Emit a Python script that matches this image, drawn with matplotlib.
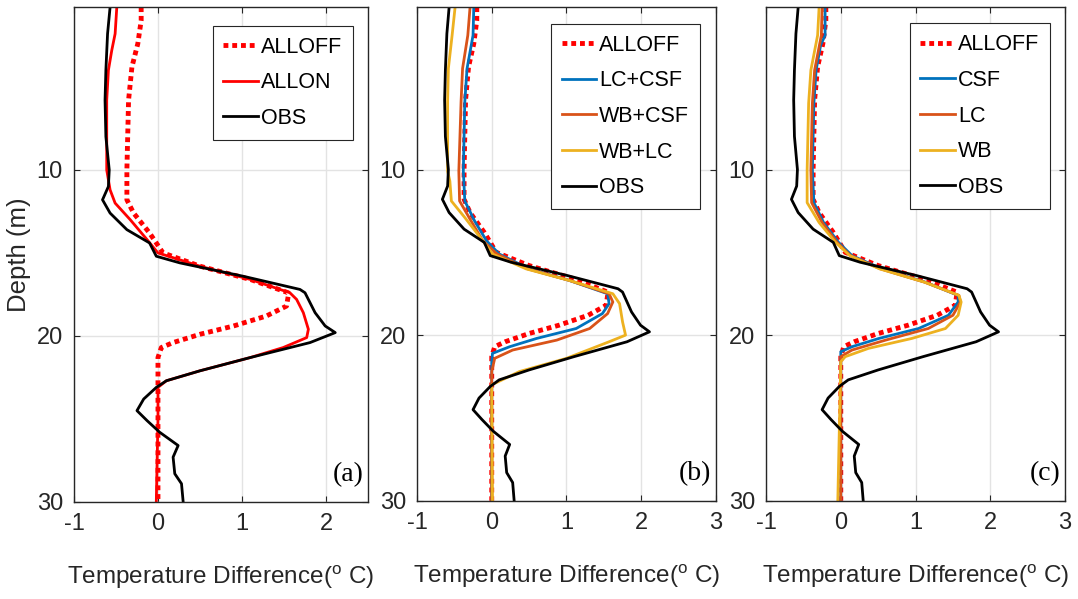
import matplotlib
matplotlib.use("Agg")
import matplotlib.pyplot as plt

plt.rcParams["font.family"] = ["Liberation Sans", "DejaVu Sans"]
plt.rcParams["mathtext.fontset"] = "custom"
plt.rcParams["mathtext.rm"] = "Liberation Sans"
plt.rcParams["axes.unicode_minus"] = False

# observed profile (shared by all panels)
obs_depth = [0.2, 1.8, 4, 5.8, 8, 10, 11, 11.8, 12.6, 13.6, 14.4, 15.2, 15.6, 16.4, 17.2, 17.4,
             18.6, 19.4, 19.8, 20.4, 21.3, 22.1, 22.7, 23.1, 23.8, 24.5, 25.1, 25.8, 26.6,
             27.3, 28.3, 28.9, 30]
obs_val = [-0.57, -0.60, -0.62, -0.63, -0.62, -0.58, -0.59, -0.66, -0.57, -0.37, -0.10, -0.02,
           0.26, 1.01, 1.69, 1.75, 1.87, 1.99, 2.11, 1.81, 1.10, 0.50, 0.10, -0.02, -0.17, -0.25,
           -0.13, 0.02, 0.24, 0.18, 0.20, 0.28, 0.30]

alloff_depth = [0.2, 1, 2.4, 3.8, 5.8, 10, 11.8, 12.6, 13.8, 15, 15.8, 16.6, 17.4, 17.6, 18.2,
                18.8, 19.4, 19.9, 20.4, 20.7, 21.3, 30]
alloff_val = [-0.20, -0.20, -0.24, -0.31, -0.35, -0.37, -0.37, -0.29, -0.10, 0.06, 0.50, 1.10,
              1.55, 1.55, 1.53, 1.29, 0.90, 0.50, 0.18, 0.04, 0.0, 0.0]

allon_depth = [0.2, 1.8, 2.8, 4, 5.8, 10, 11.2, 12, 13, 14.2, 15, 15.8, 16.6, 17.4, 17.8, 18.6,
               19.6, 20.1, 20.7, 21.3, 22.1, 22.7, 23.1, 25, 30]
allon_val = [-0.49, -0.51, -0.55, -0.59, -0.61, -0.61, -0.57, -0.51, -0.33, -0.13, 0.0, 0.50,
             1.10, 1.57, 1.65, 1.73, 1.79, 1.77, 1.49, 1.10, 0.50, 0.10, 0.0, 0.0, -0.02]

# panel (b): two processes switched on
lccsf_depth = [0.2, 1.9, 3.9, 5.9, 10.1, 11.9, 13.1, 14.3, 15.1, 16, 16.7, 17.5, 18.1, 18.7,
               19.6, 20.2, 20.7, 21.1, 21.6, 30]
lccsf_val = [-0.24, -0.25, -0.33, -0.36, -0.38, -0.36, -0.23, -0.07, 0.10, 0.50, 1.04, 1.55,
             1.57, 1.48, 1.13, 0.60, 0.24, 0.01, 0.0, 0.0]

wbcsf_depth = [0.2, 1.9, 3.9, 5.9, 10.1, 11.9, 13, 14.3, 15.1, 16, 16.7, 17.5, 18, 18.7, 19.6,
               20.3, 20.9, 21.4, 22.2, 30]
wbcsf_val = [-0.29, -0.32, -0.39, -0.41, -0.44, -0.43, -0.29, -0.12, 0.07, 0.48, 1.04, 1.57,
             1.62, 1.55, 1.31, 0.87, 0.28, 0.04, 0.0, 0.0]

wblc_depth = [0.2, 1.9, 3.9, 5.9, 10.1, 10.7, 11.9, 12.9, 14.3, 15.1, 16, 16.7, 17.5, 18.1,
              19.2, 20, 20.4, 21.4, 22.2, 23, 30]
wblc_val = [-0.49, -0.53, -0.58, -0.59, -0.59, -0.56, -0.54, -0.36, -0.12, 0.01, 0.46, 1.04,
            1.62, 1.71, 1.75, 1.79, 1.57, 1.00, 0.37, 0.0, 0.01]

# panel (c): single process switched on
csf_depth = [0.2, 1.9, 2.5, 4, 6, 10, 12, 13.2, 14.4, 15.2, 16, 16.8, 17.6, 18, 18.8, 19.6,
             20.2, 20.7, 21, 30]
csf_val = [-0.21, -0.21, -0.27, -0.33, -0.36, -0.38, -0.36, -0.23, -0.03, 0.15, 0.55, 1.13,
           1.57, 1.57, 1.44, 1.04, 0.51, 0.15, 0.0, 0.0]

lc_depth = [0.2, 1.9, 4, 6, 10, 12, 13.2, 14.4, 15.2, 16, 16.8, 17.6, 18, 18.8, 19.6, 20.3,
            20.9, 21.3, 30]
lc_val = [-0.25, -0.26, -0.35, -0.38, -0.40, -0.39, -0.25, -0.05, 0.13, 0.53, 1.12, 1.58, 1.60,
          1.50, 1.17, 0.60, 0.15, 0.0, 0.0]

wb_depth = [0.2, 1.9, 4, 6, 10, 12, 13.2, 14.4, 15.2, 16, 16.8, 17.6, 18, 18.8, 19.6, 20.2,
            20.8, 21.3, 21.6, 30]
wb_val = [-0.29, -0.31, -0.40, -0.43, -0.45, -0.45, -0.29, -0.07, 0.12, 0.52, 1.12, 1.58, 1.61,
          1.57, 1.40, 0.95, 0.37, 0.06, 0.0, -0.04]

BLUE, ORANGE, YELLOW = "#0072BD", "#D95319", "#EDB120"
TXT = "#262626"
DOT = (0, (1, 0.8))

fig = plt.figure(figsize=(10.78, 5.99), dpi=100)
boxes = [(0.0686, 0.162, 0.2728, 0.826),
         (0.3868, 0.164, 0.2774, 0.824),
         (0.7106, 0.164, 0.2774, 0.824)]
axes = [fig.add_axes(b) for b in boxes]


def style(ax, xmax, xticks, letter, anchor):
    ax.set_xlim(-1, xmax)
    ax.set_ylim(30, 0.2)
    ax.set_xticks(xticks)
    ax.set_yticks([10, 20, 30])
    ax.grid(True, color="#e3e3e3", linewidth=1.0)
    ax.set_axisbelow(True)
    ax.tick_params(direction="in", length=4, width=0.8, labelsize=17, colors=TXT,
                   top=True, right=True, pad=8)
    for s in ax.spines.values():
        s.set_color(TXT)
        s.set_linewidth(1.0)
    ax.set_xlabel(r"Temperature Difference($^{\mathrm{o}}$ C)", fontsize=17.5, color=TXT,
                  labelpad=20)
    ax.text(0.985, 0.03, letter, transform=ax.transAxes, ha="right", va="bottom",
            fontsize=20, family="Liberation Serif", color="black")
    leg = ax.legend(loc="upper right", bbox_to_anchor=anchor, borderaxespad=0, fontsize=15.5,
                    handlelength=1.6, handletextpad=0.15, labelspacing=0.68, borderpad=0.5,
                    fancybox=False, framealpha=1, edgecolor=TXT)
    leg.get_frame().set_linewidth(0.8)


ax = axes[0]
ax.plot(alloff_val, alloff_depth, color="red", linestyle=DOT, linewidth=3.5, label="ALLOFF")
ax.plot(allon_val, allon_depth, color="red", linewidth=2.0, label="ALLON")
ax.plot(obs_val, obs_depth, color="black", linewidth=2.0, label="OBS")
ax.set_ylabel("Depth (m)", fontsize=18.5, color=TXT, labelpad=4)
style(ax, 2.5, [-1, 0, 1, 2], "(a)", (0.949, 0.962))

ax = axes[1]
ax.plot(alloff_val, alloff_depth, color="red", linestyle=DOT, linewidth=3.5, label="ALLOFF")
ax.plot(lccsf_val, lccsf_depth, color=BLUE, linewidth=2.0, label="LC+CSF")
ax.plot(wbcsf_val, wbcsf_depth, color=ORANGE, linewidth=2.0, label="WB+CSF")
ax.plot(wblc_val, wblc_depth, color=YELLOW, linewidth=2.0, label="WB+LC")
ax.plot(obs_val, obs_depth, color="black", linewidth=2.0, label="OBS")
style(ax, 3, [-1, 0, 1, 2, 3], "(b)", (0.9465, 0.966))

ax = axes[2]
ax.plot(alloff_val, alloff_depth, color="red", linestyle=DOT, linewidth=3.5, label="ALLOFF")
ax.plot(csf_val, csf_depth, color=BLUE, linewidth=2.0, label="CSF")
ax.plot(lc_val, lc_depth, color=ORANGE, linewidth=2.0, label="LC")
ax.plot(wb_val, wb_depth, color=YELLOW, linewidth=2.0, label="WB")
ax.plot(obs_val, obs_depth, color="black", linewidth=2.0, label="OBS")
style(ax, 3, [-1, 0, 1, 2, 3], "(c)", (0.95, 0.967))

fig.savefig("out.png", dpi=100)
